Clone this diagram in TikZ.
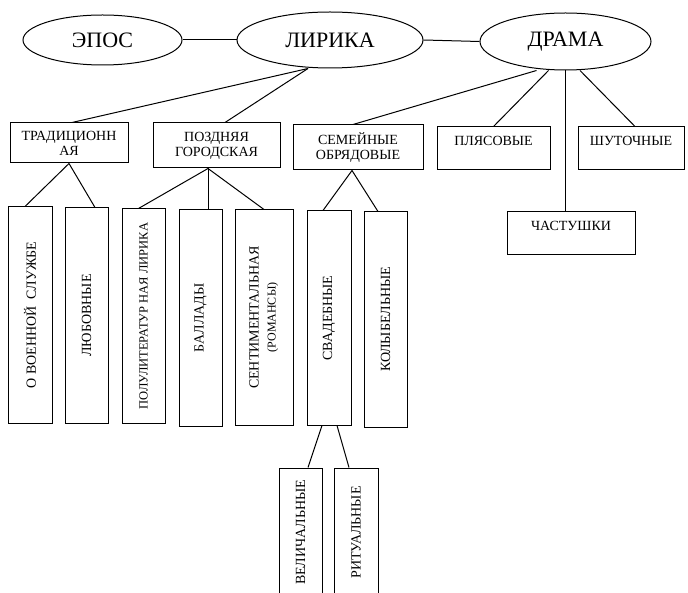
\documentclass[tikz,border=0pt]{standalone}
\usepackage{fontspec}
\setmainfont{Liberation Serif}
\usetikzlibrary{shapes}
\tikzset{
  genre/.style={draw, ellipse, line width=1pt, inner sep=0pt, font=\fontsize{22}{26}\selectfont},
  kind/.style={draw, line width=1pt, align=center, inner sep=1pt, font=\fontsize{14}{15}\selectfont},
  tall/.style={draw, line width=1pt, inner sep=0pt, font=\fontsize{14}{16}\selectfont},
  link/.style={line width=1pt}
}

\begin{document}
\begin{tikzpicture}[x=1pt,y=-1pt]
\useasboundingbox (0,0) rectangle (688,593);
\clip (0,0) rectangle (688,593);
\node[genre,minimum width=159pt,minimum height=50pt] (epos) at (102.5,40) {ЭПОС};
\node[genre,minimum width=186pt,minimum height=56pt] (lyr) at (330,40) {ЛИРИКА};
\node[genre,minimum width=171pt,minimum height=57pt] (drama) at (565.5,41.5) {ДРАМА};
\draw[link] (epos.east) -- (lyr.west);
\draw[link] (lyr.east) -- (drama.west);

\node[kind,minimum width=118pt,minimum height=40pt] (trad) at (69,143) {ТРАДИЦИОНН\\АЯ};
\node[kind,minimum width=127pt,minimum height=45pt] (pozd) at (216.5,145.5) {ПОЗДНЯЯ\\ГОРОДСКАЯ};
\node[kind,minimum width=130pt,minimum height=45pt] (sem) at (358,147.5) {СЕМЕЙНЫЕ\\ОБРЯДОВЫЕ};
\node[kind,minimum width=113pt,minimum height=43pt] (plyas) at (493.5,148.5) {ПЛЯСОВЫЕ\\~};
\node[kind,minimum width=106pt,minimum height=43pt] (shut) at (631,148.5) {ШУТОЧНЫЕ\\~};
\node[kind,minimum width=128pt,minimum height=43pt] (chast) at (571,233.5) {ЧАСТУШКИ\\~};

\coordinate (lyrfoot) at ([xshift=-22pt]lyr.south);
\draw[link] (lyrfoot) -- ([xshift=3pt]trad.north);
\draw[link] (lyrfoot) -- ([xshift=8.5pt]pozd.north);
\draw[link] ([xshift=-29pt]drama.south) -- ([xshift=-5pt]sem.north);
\draw[link] ([xshift=-17pt]drama.south) -- (plyas.north);
\draw[link] (drama.south) -- (drama.south |- chast.north);
\draw[link] ([xshift=14.5pt]drama.south) -- ([xshift=4pt]shut.north);

\node[tall,minimum width=44pt,minimum height=216pt] (voen) at (30,315) {\rotatebox{90}{О ВОЕННОЙ\ \ СЛУЖБЕ}};
\node[tall,minimum width=43pt,minimum height=215pt] (lyub) at (86.5,315.5) {\rotatebox{90}{ЛЮБОВНЫЕ}};
\node[tall,minimum width=43pt,minimum height=214pt,font=\fontsize{12.5}{14}\selectfont] (polu) at (143.5,316) {\rotatebox{90}{ПОЛУЛИТЕРАТУР НАЯ ЛИРИКА}};
\node[tall,minimum width=43pt,minimum height=216pt] (ballad) at (200.5,318) {\rotatebox{90}{БАЛЛАДЫ}};
\node[tall,minimum width=58pt,minimum height=215pt] (sent) at (264,317.5) {\rotatebox{90}{\begin{tabular}{@{}c@{}}СЕНТИМЕНТАЛЬНАЯ\\[1pt]{\fontsize{12}{13}\selectfont (РОМАНСЫ)}\end{tabular}}};
\node[tall,minimum width=44pt,minimum height=214pt] (svad) at (329,318) {\rotatebox{90}{СВАДЕБНЫЕ}};
\node[tall,minimum width=43pt,minimum height=215pt] (kolyb) at (385.5,319.5) {\rotatebox{90}{КОЛЫБЕЛЬНЫЕ}};
\node[tall,minimum width=43pt,minimum height=129pt] (vel) at (300.5,532.5) {\rotatebox{90}{ВЕЛИЧАЛЬНЫЕ}};
\node[tall,minimum width=44pt,minimum height=129pt] (rit) at (356,532.5) {\rotatebox{90}{РИТУАЛЬНЫЕ}};

\draw[link] (trad.south) -- ([xshift=-5pt]voen.north);
\draw[link] (trad.south) -- ([xshift=8.5pt]lyub.north);
\coordinate (pozdfoot) at ([xshift=-8.5pt]pozd.south);
\draw[link] (pozdfoot) -- ([xshift=-5pt]polu.north);
\draw[link] (pozdfoot) -- (pozdfoot |- ballad.north);
\draw[link] (pozdfoot) -- (sent.north);
\coordinate (semfoot) at ([xshift=-6pt]sem.south);
\draw[link] (semfoot) -- ([xshift=-6pt]svad.north);
\draw[link] (semfoot) -- ([xshift=-7.5pt]kolyb.north);
\draw[link] ([xshift=-7pt]svad.south) -- ([xshift=7.5pt]vel.north);
\draw[link] ([xshift=8pt]svad.south) -- ([xshift=-7pt]rit.north);
\end{tikzpicture}
\end{document}
